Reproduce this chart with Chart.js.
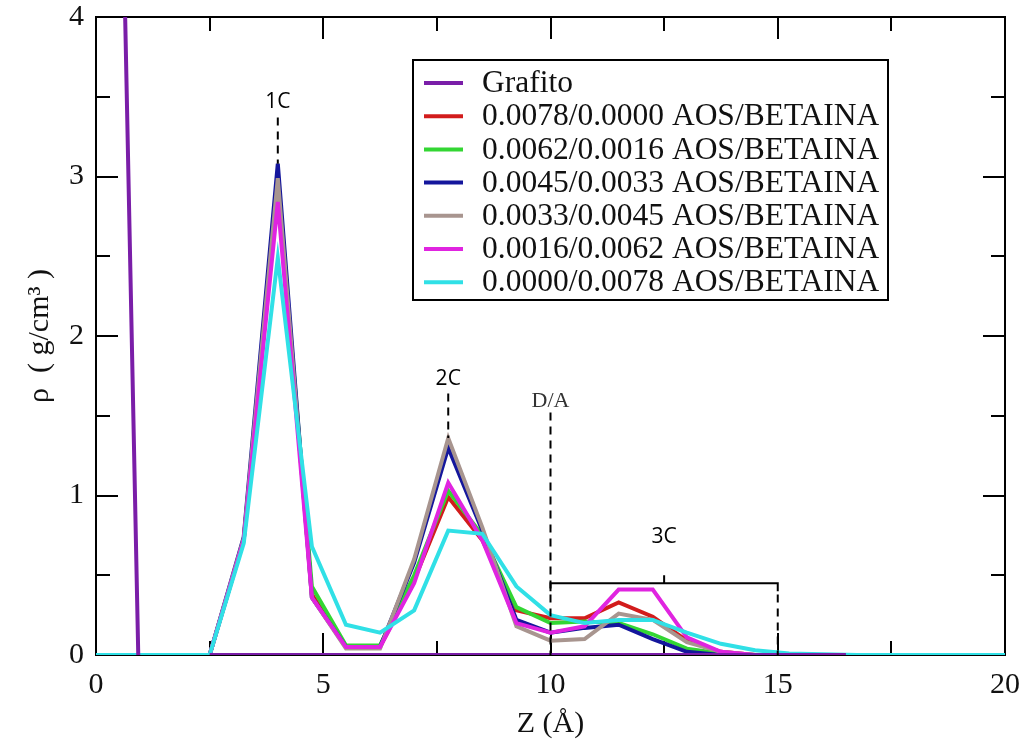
<!DOCTYPE html>
<html>
<head>
<meta charset="utf-8">
<script src="https://cdn.jsdelivr.net/npm/chart.js@4"></script>
<style>
  html, body { margin: 0; padding: 0; background: #fff; }
  #wrap { width: 1032px; height: 746px; }
</style>
</head>
<body>
<div id="wrap"><canvas id="myChart" width="1032" height="746"></canvas></div>
<script>
// Z grid (Å) shared by the surfactant profiles
const zValues = [0, 0.25, 1.0, 1.75, 2.5, 3.25, 4.0, 4.75, 5.5, 6.25, 7.0, 7.75, 8.5, 9.25, 10.0,
  10.75, 11.5, 12.25, 13.0, 13.75, 14.5, 15.25, 16.0, 16.75, 17.5, 18.25, 19.0, 19.75, 20];

// density profiles (g/cm3)
const rho78_00 = [0, 0, 0, 0, 0, 0.72, 2.95, 0.38, 0.05, 0.05, 0.47, 0.99, 0.72, 0.28, 0.23,
  0.23, 0.33, 0.24, 0.09, 0.02, 0, 0, 0, 0, 0, 0, 0, 0, 0];
const rho62_16 = [0, 0, 0, 0, 0, 0.72, 2.95, 0.43, 0.06, 0.06, 0.50, 1.03, 0.75, 0.30, 0.20,
  0.21, 0.20, 0.13, 0.04, 0.01, 0, 0, 0, 0, 0, 0, 0, 0, 0];
const rho45_33 = [0, 0, 0, 0, 0, 0.74, 3.08, 0.36, 0.05, 0.05, 0.58, 1.30, 0.78, 0.22, 0.14,
  0.17, 0.19, 0.10, 0.02, 0, 0, 0, 0, 0, 0, 0, 0, 0, 0];
const rho33_45 = [0, 0, 0, 0, 0, 0.73, 2.99, 0.36, 0.04, 0.04, 0.60, 1.36, 0.80, 0.18, 0.09,
  0.10, 0.26, 0.22, 0.08, 0.02, 0, 0, 0, 0, 0, 0, 0, 0, 0];
const rho16_62 = [0, 0, 0, 0, 0, 0.72, 2.84, 0.36, 0.05, 0.05, 0.45, 1.08, 0.72, 0.20, 0.14,
  0.18, 0.41, 0.41, 0.11, 0.02, 0, 0, 0, 0, 0, 0, 0, 0, 0];
const rho00_78 = [0, 0, 0, 0, 0, 0.70, 2.49, 0.68, 0.19, 0.14, 0.28, 0.78, 0.76, 0.43, 0.25,
  0.20, 0.22, 0.22, 0.14, 0.07, 0.03, 0.01, 0.005, 0, 0, 0, 0, 0, 0];

// graphite wall
const grafitoZ = [0.62, 0.93, 1.5, 2.5, 16.5];
const grafitoRho = [4.3, 0, null, 0, 0];

const seriesLabels = ["Grafito", "0.0078/0.0000 AOS/BETAINA", "0.0062/0.0016 AOS/BETAINA",
  "0.0045/0.0033 AOS/BETAINA", "0.0033/0.0045 AOS/BETAINA", "0.0016/0.0062 AOS/BETAINA",
  "0.0000/0.0078 AOS/BETAINA"];
const seriesColors = ["#7a1ea8", "#d21c1c", "#33d633", "#14169c", "#a8958f", "#e024e0", "#30e0e6"];

const xTicks = [0, 5, 10, 15, 20];
const yTicks = [0, 1, 2, 3, 4];

function toPoints(xs, ys) {
  return xs.map((x, i) => ({ x: x, y: ys[i] }));
}

const profiles = [rho78_00, rho62_16, rho45_33, rho33_45, rho16_62, rho00_78];
const datasets = [{
  label: seriesLabels[0],
  data: toPoints(grafitoZ, grafitoRho),
  borderColor: seriesColors[0],
  borderWidth: 4,
  pointRadius: 0,
  tension: 0,
  order: -1
}];
profiles.forEach((p, i) => {
  datasets.push({
    label: seriesLabels[i + 1],
    data: toPoints(zValues, p),
    borderColor: seriesColors[i + 1],
    borderWidth: 4,
    pointRadius: 0,
    tension: 0,
    order: profiles.length - i   // later sets drawn on top, like the original
  });
});

// frame and inward ticks, under the curves
const framePlugin = {
  id: "frame",
  beforeDatasetsDraw(chart) {
    const ctx = chart.ctx;
    const xs = chart.scales.x, ys = chart.scales.y;
    const a = chart.chartArea;
    ctx.save();
    ctx.strokeStyle = "#000";
    ctx.lineWidth = 2;
    ctx.strokeRect(a.left, a.top, a.right - a.left, a.bottom - a.top);
    for (let v = 0; v <= 20; v += 2.5) {
      const px = Math.round(xs.getPixelForValue(v));
      const len = (v % 5 === 0) ? 22 : 14;
      ctx.beginPath();
      ctx.moveTo(px, a.bottom); ctx.lineTo(px, a.bottom - len);
      ctx.moveTo(px, a.top); ctx.lineTo(px, a.top + len);
      ctx.stroke();
    }
    for (let v = 0; v <= 4; v += 0.5) {
      const py = Math.round(ys.getPixelForValue(v));
      const len = (v % 1 === 0) ? 22 : 14;
      ctx.beginPath();
      ctx.moveTo(a.left, py); ctx.lineTo(a.left + len, py);
      ctx.moveTo(a.right, py); ctx.lineTo(a.right - len, py);
      ctx.stroke();
    }
    ctx.restore();
  }
};

// annotations and the boxed legend
const decorPlugin = {
  id: "decor",
  afterDraw(chart) {
    const ctx = chart.ctx;
    const X = v => chart.scales.x.getPixelForValue(v);
    const Y = v => chart.scales.y.getPixelForValue(v);
    ctx.save();
    ctx.strokeStyle = "#000";
    ctx.lineWidth = 2;

    // dashed markers
    ctx.setLineDash([8, 6]);
    ctx.beginPath();
    ctx.moveTo(X(4), Y(3.37)); ctx.lineTo(X(4), Y(3.08));
    ctx.moveTo(X(7.75), Y(1.64)); ctx.lineTo(X(7.75), Y(1.36));
    ctx.moveTo(X(10), Y(1.52)); ctx.lineTo(X(10), Y(0));
    ctx.moveTo(X(15), Y(0.38)); ctx.lineTo(X(15), Y(0));
    ctx.stroke();
    ctx.setLineDash([]);

    // 3C bracket
    ctx.beginPath();
    ctx.moveTo(X(10), Y(0.40)); ctx.lineTo(X(10), Y(0.45));
    ctx.lineTo(X(15), Y(0.45)); ctx.lineTo(X(15), Y(0.40));
    ctx.moveTo(X(12.5), Y(0.45)); ctx.lineTo(X(12.5), Y(0.50));
    ctx.stroke();

    ctx.fillStyle = "#000";
    ctx.textAlign = "center";
    ctx.textBaseline = "middle";
    ctx.font = "21px 'Open Sans', 'Liberation Sans', sans-serif";
    ctx.fillText("1C", X(4), Y(3.47));
    ctx.fillText("2C", X(7.75), Y(1.73));
    ctx.fillText("3C", X(12.5), Y(0.74));
    ctx.fillStyle = "#333";
    ctx.font = "22px 'Liberation Serif', serif";
    ctx.fillText("D/A", X(10), Y(1.59));

    // legend box
    const bx = 413, by = 60, bw = 475, bh = 240;
    ctx.fillStyle = "#fff";
    ctx.fillRect(bx, by, bw, bh);
    ctx.strokeStyle = "#000";
    ctx.lineWidth = 2;
    ctx.strokeRect(bx, by, bw, bh);
    ctx.textAlign = "left";
    ctx.font = "31.5px 'Liberation Serif', serif";
    seriesLabels.forEach((lab, i) => {
      const ry = 83 + i * 33.2;
      ctx.strokeStyle = seriesColors[i];
      ctx.lineWidth = 4;
      ctx.beginPath();
      ctx.moveTo(424, ry); ctx.lineTo(463, ry);
      ctx.stroke();
      ctx.fillStyle = "#111";
      ctx.fillText(lab, 482, ry + 1);
    });
    ctx.restore();
  }
};

new Chart("myChart", {
  type: "line",
  data: { datasets: datasets },
  options: {
    responsive: false,
    animation: false,
    layout: { padding: { top: 17, right: 27, left: 0, bottom: 0 } },
    plugins: { legend: { display: false }, tooltip: { enabled: false } },
    scales: {
      x: {
        type: "linear",
        min: 0, max: 20,
        afterBuildTicks: s => { s.ticks = xTicks.map(v => ({ value: v })); },
        afterFit: s => { s.height = 91; s.paddingLeft = 0; s.paddingRight = 0; },
        grid: { display: false },
        border: { display: false },
        ticks: { color: "#111", padding: 4, maxRotation: 0,
          font: { family: "'Liberation Serif', serif", size: 30 } },
        title: { display: true, text: "Z (Å)", color: "#111", padding: { top: 0 },
          font: { family: "'Liberation Serif', serif", size: 30 } }
      },
      y: {
        min: 0, max: 4,
        afterBuildTicks: s => { s.ticks = yTicks.map(v => ({ value: v })); },
        afterFit: s => { s.width = 96; s.paddingTop = 0; s.paddingBottom = 0; },
        grid: { display: false },
        border: { display: false },
        ticks: { color: "#111", padding: 4,
          font: { family: "'Liberation Serif', serif", size: 30 } },
        title: { display: true, text: "ρ  ( g/cm³ )", color: "#111", padding: { top: 22, bottom: 0 },
          font: { family: "'Liberation Serif', serif", size: 30 } }
      }
    }
  },
  plugins: [framePlugin, decorPlugin]
});
</script>
</body>
</html>
